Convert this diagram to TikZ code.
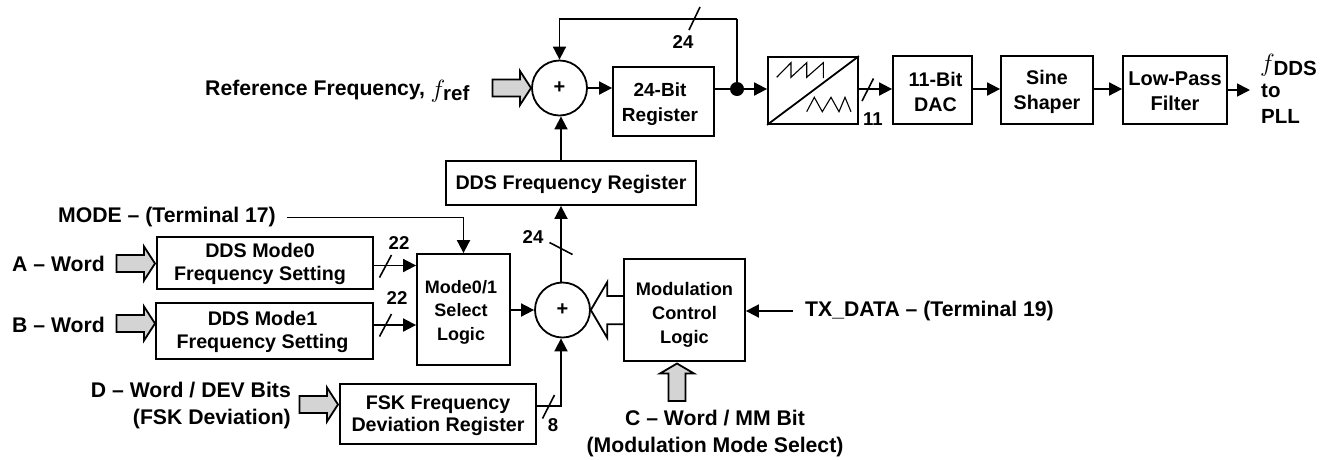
\documentclass[tikz,border=0pt]{standalone}
\usepackage{fontspec}
\setmainfont{Liberation Sans}
\usetikzlibrary{arrows.meta,calc}
\definecolor{fatgray}{gray}{0.83}
\tikzset{
  box/.style={draw,line width=1.8pt,inner sep=0pt,align=center,font=\fontsize{19.7}{23}\selectfont\bfseries},
  txt/.style={inner sep=0pt,align=center,font=\fontsize{21.2}{27}\selectfont\bfseries},
  lbl/.style={inner sep=0pt,font=\fontsize{18.6}{22}\selectfont\bfseries},
  olbl/.style={inner sep=0pt,font=\fontsize{20.5}{22}\selectfont\bfseries},
  mth/.style={inner sep=0pt,font=\fontsize{24}{24}\selectfont},
  sumnode/.style={draw,circle,line width=1.8pt,inner sep=0pt,minimum size=55pt,font=\fontsize{20}{22}\selectfont\bfseries},
  wire/.style={line width=1.8pt},
  thinwave/.style={line width=1.1pt},
  arr/.style={line width=1.8pt,-{Triangle[length=13pt,width=13pt]}},
  bus/.style={line width=1.6pt},
  fat/.style={draw,fill=fatgray,line width=1.8pt,miter limit=10},
  hollow/.style={draw,fill=white,line width=1.8pt,miter limit=10},
}
\newcommand{\bx}[7][]{\node[box,minimum width=#5pt-#3pt,minimum height=#6pt-#4pt,#1] (#2) at ({(#3+#5)/2},{(#4+#6)/2}) {#7};}
% text nudges: \dn moves the block down by half its argument, \ls moves a line sideways by half its argument
\newcommand{\dn}[1]{\rule{0pt}{\dimexpr14.2pt+#1pt\relax}}
\newcommand{\ls}[1]{\hspace*{#1pt}}
% rightward fat arrow given by its tip
\newcommand{\fatr}[2]{\draw[fat] (#1,#2) -- ++(-11,-17) -- ++(0,8.5) -- ++(-27.5,0) -- ++(0,17) -- ++(27.5,0) -- ++(0,8.5) -- cycle;}
\begin{document}
\begin{tikzpicture}[x=1pt,y=-1pt]
\useasboundingbox (0,0) rectangle (1331,459);
% blocks
\bx[font=\fontsize{19}{24.3}\selectfont\bfseries]{reg}{613}{67}{714}{136}{\dn{5}\ls{-7}24-Bit\\\ls{-7}Register}
\bx{conv}{768}{57}{858}{124}{}
\bx[font=\fontsize{19.7}{25}\selectfont\bfseries]{dac}{893}{56}{972}{124}{\dn{4}\ls{6}11-Bit\\\ls{6}DAC}
\bx[font=\fontsize{19.7}{25}\selectfont\bfseries]{sine}{1001}{56}{1093}{124}{\dn{4}Sine\\Shaper}
\bx[font=\fontsize{20}{25}\selectfont\bfseries]{lpf}{1123}{56}{1227}{124}{\dn{2}Low-Pass\\Filter}
\bx{ddsreg}{446}{161}{696}{205}{\dn{3}DDS Frequency Register}
\bx{modea}{157}{237}{373}{289}{\dn{2}\ls{-10}DDS Mode0\\\ls{-10}Frequency Setting}
\bx{modeb}{156}{303}{373}{359}{\dn{2}\ls{-4}DDS Mode1\\\ls{-4}Frequency Setting}
\bx[font=\fontsize{18}{23.5}\selectfont\bfseries]{sel}{417}{254}{510}{365}{\dn{4}\ls{-5}Mode0/1\\\ls{-5}Select\\\ls{-5}Logic}
\bx[font=\fontsize{18.2}{24}\selectfont\bfseries]{mod}{624}{259}{745}{361}{\dn{8}Modulation\\Control\\Logic}
\bx[font=\fontsize{19.7}{22}\selectfont\bfseries]{fsk}{340}{384}{536}{444}{\dn{3}FSK Frequency\\Deviation Register}
\node[sumnode] (s1) at (559.5,88) {+};
\node[sumnode] (s2) at (562.5,310) {+};
% converter glyph
\draw[wire] (conv.south west) -- (conv.north east);
\draw[thinwave] (776.7,77.3) -- (791,62.7) -- (791,77.3) -- (806.7,62.7) -- (806.7,77.3) -- (823.3,62.7) -- (823.3,78);
\draw[thinwave] (806.7,111.7) -- (814.3,97.3) -- (822.3,111.7) -- (831,97.3) -- (839,111.7) -- (845,97.3) -- (851,111.7);
% labels
\node[txt,anchor=base west] (ref) at (205,95) {Reference Frequency,};
\node[mth,anchor=base west] (fref) at (430.5,97) {$f$};
\node[olbl,anchor=base west] (refs) at (443,100.7) {ref};
\node[txt,anchor=west] (modet) at (58,217.5) {MODE – (Terminal 17)};
\node[txt,anchor=west] (at) at (12,263.5) {A – Word};
\node[txt,anchor=west] (bt) at (12,324.5) {B – Word};
\node[txt,align=right,anchor=east] (dt) at (291,406) {D – Word / DEV Bits\\(FSK Deviation)};
\node[txt,anchor=west] (tx) at (805,311) {TX\_DATA – (Terminal 19)};
\node[txt] (ct) at (715,434) {C – Word / MM Bit\\(Modulation Mode Select)};
\node[mth,anchor=base west] (out1) at (1260,71) {$f$};
\node[olbl,anchor=base west] (outd) at (1273.3,75) {DDS};
\node[olbl,anchor=base west] (out2) at (1261,97) {to};
\node[olbl,anchor=base west] (out3) at (1261,123) {PLL};
% fat input arrows
\fatr{531}{88}
\fatr{155}{263.5}
\fatr{155}{323.5}
\fatr{338}{404.5}
\draw[fat] (677,363.5) -- ++(-17,10) -- ++(8.5,0) -- ++(0,27.5) -- ++(17,0) -- ++(0,-27.5) -- ++(8.5,0) -- cycle;
\draw[hollow] (590.8,310) -- (607.3,282) -- (607.3,296) -- (624,296) -- (624,324.3) -- (607.3,324.3) -- (607.3,338) -- cycle;
% connectors
\coordinate (j) at (737,89);
\coordinate (fbtop) at (737,19);
\draw[wire] (reg.east |- j) -- (j);
\draw[arr] (j) -- (j -| conv.west);
\draw[wire] (j) -- (fbtop);
\draw[arr] (fbtop) -- (fbtop -| s1) -- (s1.north);
\fill (j) circle (7pt);
\draw[arr] (s1.east) -- (s1.east -| reg.west);
\coordinate (ddsx) at (561,205);
\draw[arr] (ddsx |- ddsreg.north) -- (ddsx |- s1.south);
\draw[arr] (ddsx |- s2.north) -- (ddsx |- ddsreg.south);
\coordinate (fk) at (561,406);
\draw[arr] (fsk.east |- fk) -- (fk) -- (ddsx |- s2.south);
\draw[arr] (conv.east |- j) -- (j -| dac.west);
\draw[arr] (dac.east |- j) -- (j -| sine.west);
\draw[arr] (sine.east |- j) -- (j -| lpf.west);
\coordinate (outend) at (1250,90);
\draw[arr] (lpf.east |- outend) -- (outend);
\coordinate (modeend) at (286.5,217.5);
\draw[arr] (modeend) -- (sel.north |- modeend) -- (sel.north);
\coordinate (ya) at (0,265.5);
\coordinate (yb) at (0,325);
\draw[arr] (modea.east |- ya) -- (sel.west |- ya);
\draw[arr] (modeb.east |- yb) -- (sel.west |- yb);
\draw[arr] (sel.east |- s2) -- (s2.west);
\coordinate (txend) at (793,311);
\draw[arr] (txend) -- (mod.east |- txend);
% bus slashes
\draw[bus] (689,30) -- (700,7);
\node[lbl] (n24a) at (683,42) {24};
\draw[bus] (862,101) -- (873.5,78.5);
\node[lbl] (n11) at (873,119) {11};
\draw[bus] (549.5,242.5) -- (572.5,254.5);
\node[lbl] (n24b) at (533,237) {24};
\draw[bus] (379.5,277.5) -- (391.5,255);
\node[lbl] (n22a) at (399,242.5) {22};
\draw[bus] (379.5,336.5) -- (391.5,314);
\node[lbl] (n22b) at (397,298) {22};
\draw[bus] (542.5,418.5) -- (554.5,395);
\node[lbl] (n8) at (553,425) {8};
\end{tikzpicture}
\end{document}
